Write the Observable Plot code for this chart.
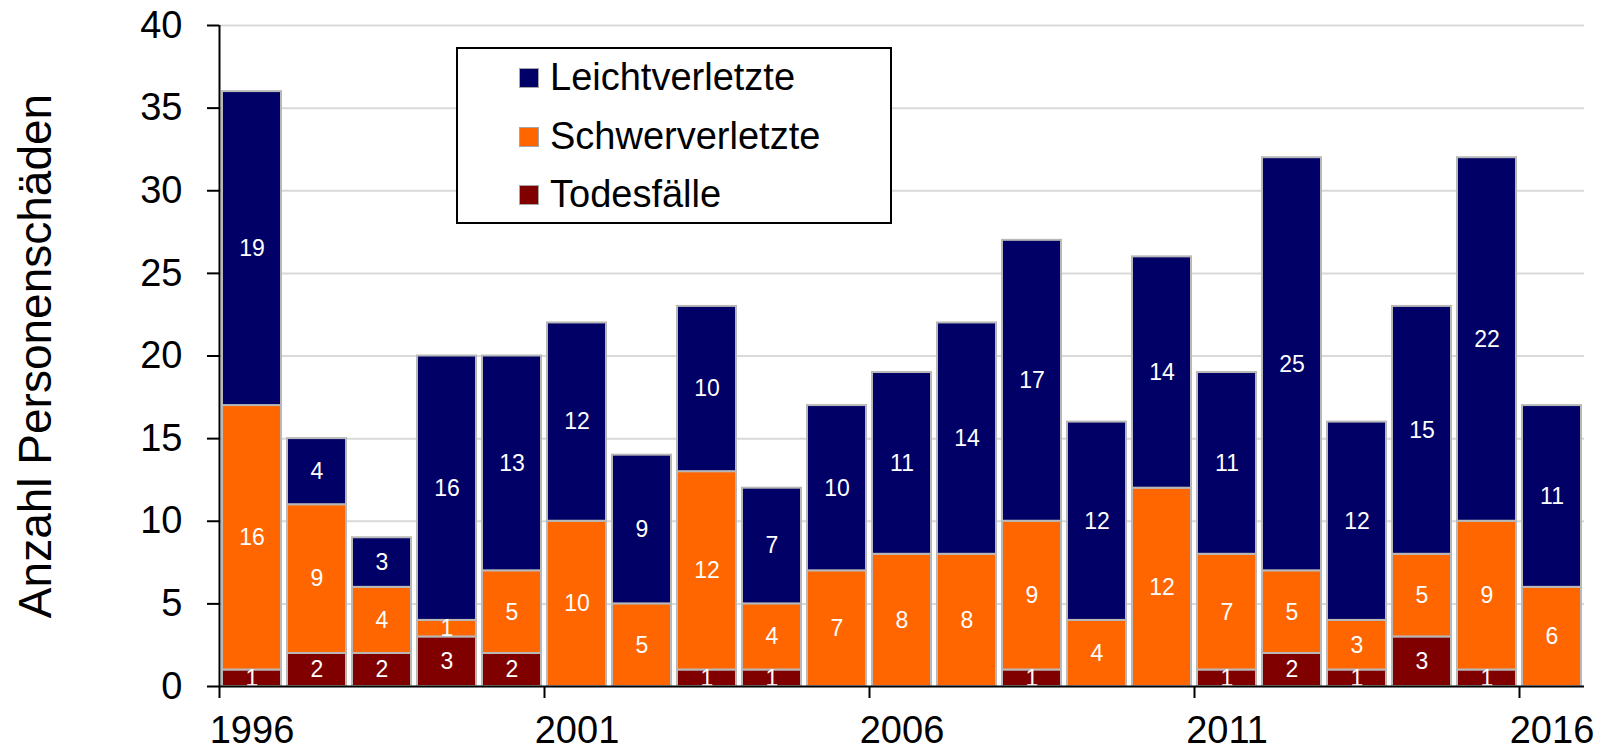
<!DOCTYPE html>
<html>
<head>
<meta charset="utf-8">
<script src="https://cdn.jsdelivr.net/npm/d3@7"></script>
<script src="https://cdn.jsdelivr.net/npm/@observablehq/plot@0.6"></script>
<style>
  html, body { margin: 0; padding: 0; background: #fff; }
  #wrap { position: relative; width: 1610px; height: 749px; font-family: "Liberation Sans", Arial, sans-serif; }
  #legend { position: absolute; left: 456px; top: 47px; width: 432px; height: 173px; border: 2px solid #000; background: #fff; }
  .row { position: absolute; left: 61px; height: 50px; display: flex; align-items: center; font-size: 38px; color: #000; white-space: nowrap; }
  .sw { width: 18px; height: 18px; border: 1px solid #a6a6a6; margin-right: 11px; }
</style>
</head>
<body>
<div id="wrap"></div>
<script>
const years = [1996,1997,1998,1999,2000,2001,2002,2003,2004,2005,2006,2007,2008,2009,2010,2011,2012,2013,2014,2015,2016];
const todesfaelle     = [1,2,2,3,2,0,0,1,1,0,0,0,1,0,0,1,2,1,3,1,0];
const schwerverletzte = [16,9,4,1,5,10,5,12,4,7,8,8,9,4,12,7,5,3,5,9,6];
const leichtverletzte = [19,4,3,16,13,12,9,10,7,10,11,14,17,12,14,11,25,12,15,22,11];
const seriesNames = ["Todesfälle", "Schwerverletzte", "Leichtverletzte"];
const seriesColors = ["#800000", "#FF6600", "#000066"];
const yTicks = [0,5,10,15,20,25,30,35,40];
const xLabelYears = [1996, 2001, 2006, 2011, 2016];
const yLabel = "Anzahl Personenschäden";

const seriesValues = [todesfaelle, schwerverletzte, leichtverletzte];
const data = [];
years.forEach((yr, i) => {
  seriesNames.forEach((s, k) => data.push({year: yr, type: s, value: seriesValues[k][i]}));
});
const labelData = data.filter(d => d.value > 0);
const tickBoundaries = xLabelYears.map(y => y - 0.5);

const chart = Plot.plot({
  width: 1610,
  height: 749,
  marginLeft: 219,
  marginRight: 26,
  marginTop: 25,
  marginBottom: 63,
  style: {fontFamily: "Liberation Sans, Arial, sans-serif", background: "white"},
  x: {domain: [years[0] - 0.5, years[years.length - 1] + 0.5]},
  y: {domain: [0, 40]},
  color: {domain: seriesNames, range: seriesColors},
  marks: [
    Plot.gridY(yTicks.slice(1), {stroke: "#d9d9d9", strokeOpacity: 1, strokeWidth: 2}),
    Plot.rectY(data, {
      x1: d => d.year - 0.5, x2: d => d.year + 0.5, y: "value", fill: "type",
      insetLeft: 3, insetRight: 3, stroke: "#b8b8b8", strokeWidth: 2
    }),
    Plot.text(labelData, Plot.stackY({
      x: "year", y: "value", text: "value", fill: "white", fontSize: 23, clip: true
    })),
    Plot.ruleY([0], {stroke: "#000", strokeWidth: 2}),
    Plot.ruleX([years[0] - 0.5], {stroke: "#000", strokeWidth: 2}),
    Plot.axisY({ticks: yTicks, tickSize: 12, tickPadding: 25, fontSize: 38, strokeWidth: 2, label: null, color: "#000"}),
    Plot.axisX({ticks: tickBoundaries, tickSize: 12, strokeWidth: 2, tickFormat: () => "", label: null}),
    Plot.axisX({ticks: xLabelYears, tickSize: 0, tickPadding: 30, fontSize: 38, tickFormat: d => String(d), label: null, color: "#000"}),
    Plot.text([yLabel], {frameAnchor: "left", textAnchor: "middle", dx: -183, rotate: -90, fontSize: 46, fill: "#000"})
  ]
});

const wrap = document.getElementById("wrap");
wrap.appendChild(chart);

const legend = document.createElement("div");
legend.id = "legend";
const legendOrder = [2, 1, 0];
const rowCenters = [28.5, 87.5, 145.5];
legendOrder.forEach((k, i) => {
  const row = document.createElement("div");
  row.className = "row";
  row.style.top = (rowCenters[i] - 25) + "px";
  const sw = document.createElement("div");
  sw.className = "sw";
  sw.style.background = seriesColors[k];
  const t = document.createElement("span");
  t.textContent = seriesNames[k];
  row.appendChild(sw);
  row.appendChild(t);
  legend.appendChild(row);
});
wrap.appendChild(legend);
</script>
</body>
</html>
